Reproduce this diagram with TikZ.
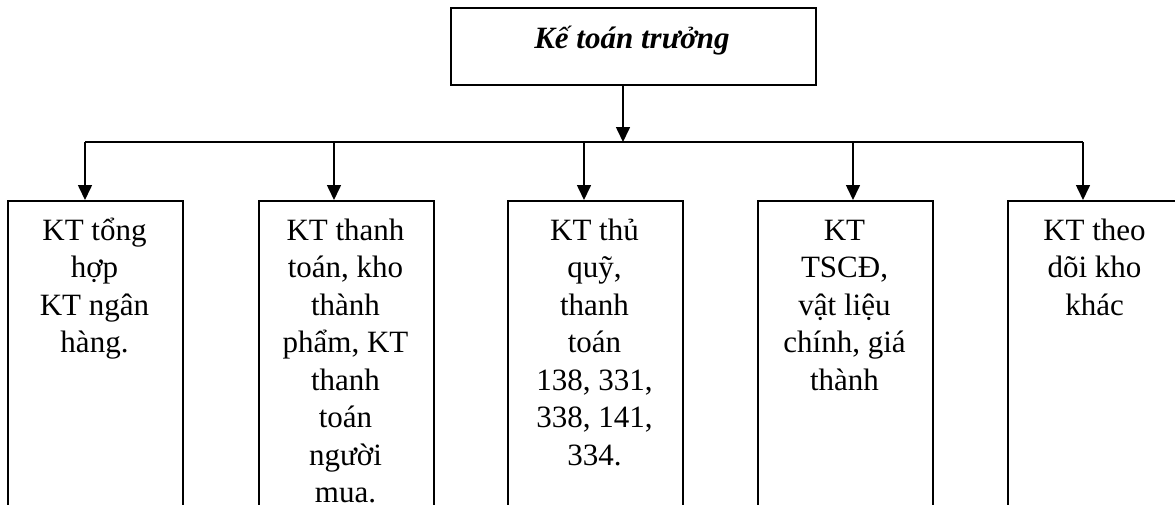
\documentclass[tikz,border=0pt]{standalone}
\usepackage{fontspec}
\setmainfont{Liberation Serif}
\usetikzlibrary{arrows.meta}
\tikzset{
  boxline/.style={draw=black, line width=1.6pt},
  unitbox/.style={boxline, rectangle, minimum width=175pt, minimum height=340pt, anchor=north west, inner sep=0pt},
  unittext/.style={anchor=north, align=center, inner sep=0pt, font=\fontsize{31}{37.5}\selectfont},
  conn/.style={line width=1.6pt, -{Triangle[length=15pt,width=14pt]}},
  busline/.style={line width=1.6pt},
}
\newcommand{\topstrut}{\rule{0pt}{30pt}}
\begin{document}
\begin{tikzpicture}[x=1pt,y=-1pt]
\useasboundingbox (0,0) rectangle (1175,504);
\clip (0,0) rectangle (1175,504);
% top box
\node[boxline, rectangle, minimum width=365pt, minimum height=77pt, inner sep=0pt, anchor=north west] (head) at (450,7) {};
\node[anchor=base, inner sep=0pt, font=\fontsize{31}{37}\selectfont\bfseries\itshape] (headtxt) at (632,48) {Kế toán trưởng};
% unit boxes
\node[unitbox] (u1) at (7,200) {};
\node[unitbox] (u2) at (258,200) {};
\node[unitbox] (u3) at (507,200) {};
\node[unitbox] (u4) at (757,200) {};
\node[unitbox] (u5) at (1007,200) {};
% texts
\node[unittext] (t1) at (94.5,210) {\topstrut KT tổng\\hợp\\KT ngân\\hàng.};
\node[unittext] (t2) at (345.5,210) {\topstrut KT thanh\\toán, kho\\thành\\phẩm, KT\\thanh\\toán\\người\\mua.};
\node[unittext] (t3) at (594.5,210) {\topstrut KT thủ\\quỹ,\\thanh\\toán\\138, 331,\\338, 141,\\334.};
\node[unittext] (t4) at (844.5,210) {\topstrut KT\\TSCĐ,\\vật liệu\\chính, giá\\thành};
\node[unittext] (t5) at (1094.5,210) {\topstrut KT theo\\dõi kho\\khác};
% bus
\coordinate (hub) at (623,142);
\coordinate (b1) at (85,142);
\coordinate (b2) at (334,142);
\coordinate (b3) at (584,142);
\coordinate (b4) at (853,142);
\coordinate (b5) at (1083,142);
\draw[conn] (hub |- head.south) -- (hub);
\draw[busline] (b1) -- (b5);
\draw[conn] (b1) -- (b1 |- u1.north);
\draw[conn] (b2) -- (b2 |- u2.north);
\draw[conn] (b3) -- (b3 |- u3.north);
\draw[conn] (b4) -- (b4 |- u4.north);
\draw[conn] (b5) -- (b5 |- u5.north);
\end{tikzpicture}
\end{document}
